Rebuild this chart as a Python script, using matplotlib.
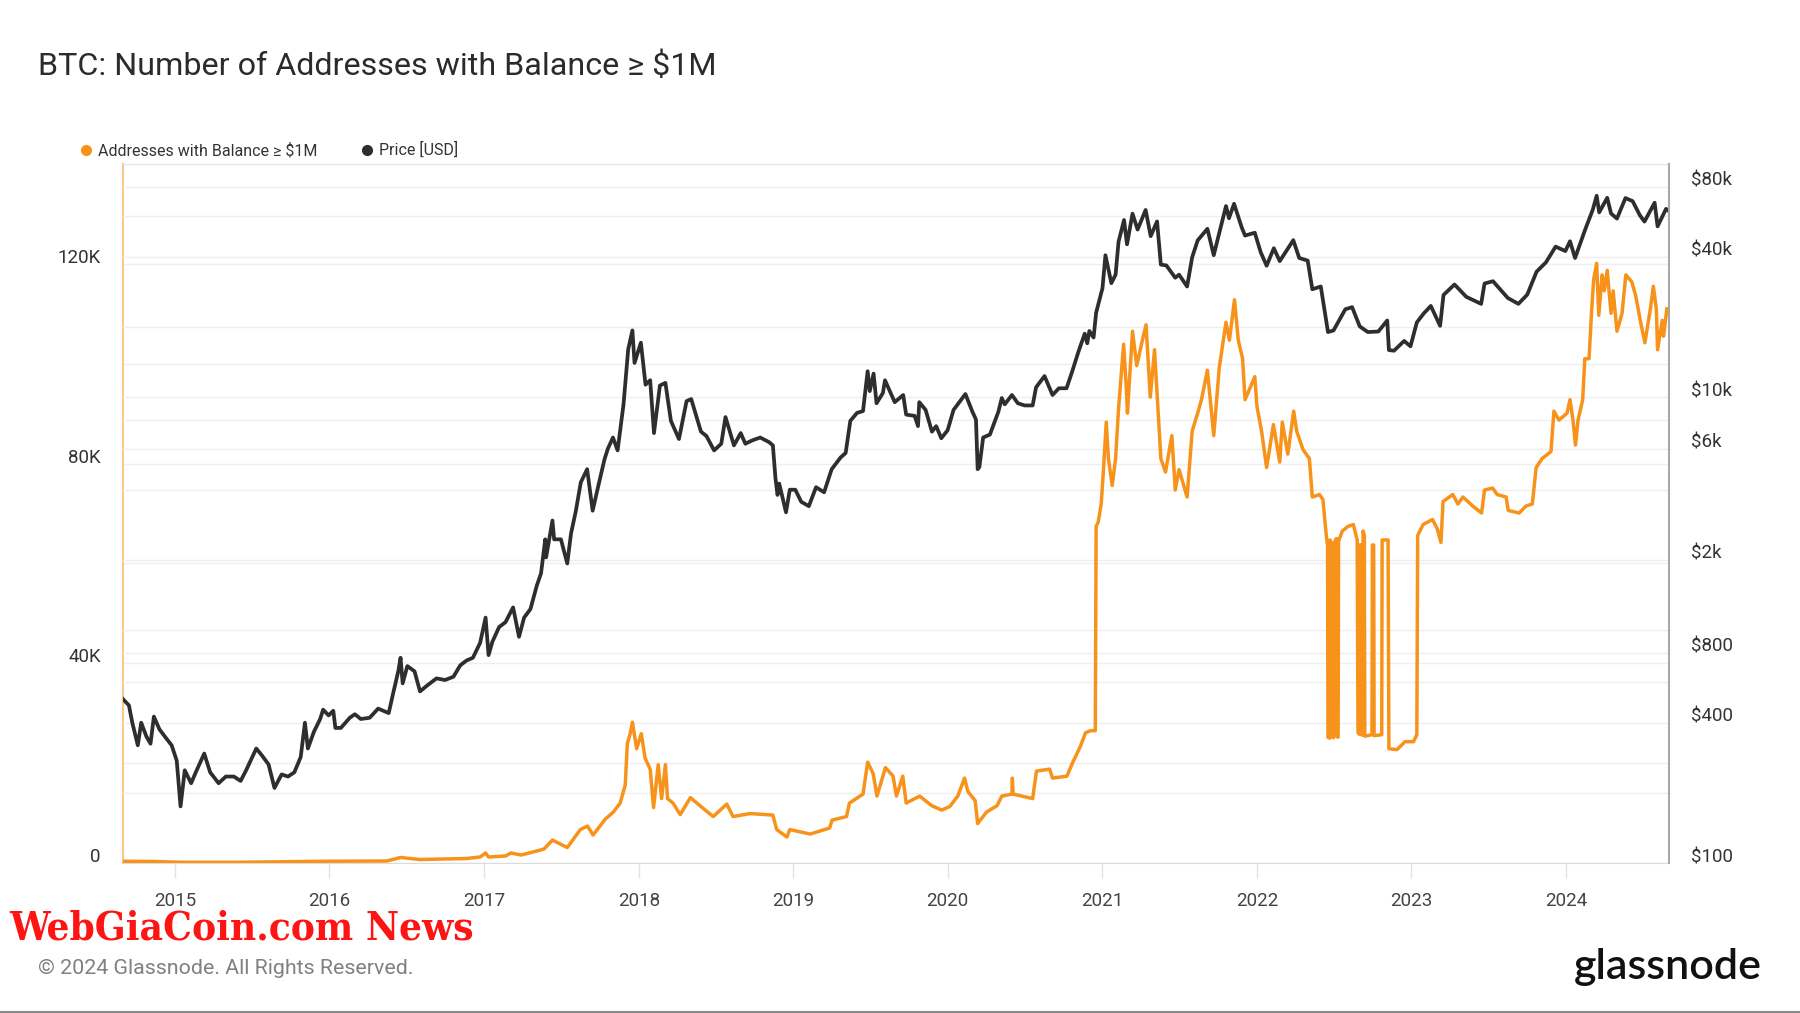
import matplotlib
matplotlib.use("Agg")
import matplotlib.pyplot as plt
import matplotlib.dates as mdates
from matplotlib.lines import Line2D
from matplotlib.ticker import NullLocator
from matplotlib.transforms import ScaledTranslation
import pandas as pd

plt.rcParams['font.family'] = ['Roboto', 'DejaVu Sans']

price_dates = [
    "2014-08-31", "2014-09-14", "2014-09-22", "2014-10-05", "2014-10-13", "2014-10-25",
    "2014-11-04", "2014-11-12", "2014-11-25", "2014-12-10", "2014-12-24", "2015-01-05",
    "2015-01-14", "2015-01-24", "2015-02-08", "2015-02-19", "2015-03-11", "2015-03-25",
    "2015-04-14", "2015-05-01", "2015-05-20", "2015-06-05", "2015-06-18", "2015-07-12",
    "2015-07-25", "2015-08-10", "2015-08-24", "2015-09-10", "2015-09-25", "2015-10-10",
    "2015-10-25", "2015-11-04", "2015-11-11", "2015-11-25", "2015-12-10", "2015-12-17",
    "2015-12-30", "2016-01-10", "2016-01-15", "2016-01-28", "2016-02-18", "2016-03-01",
    "2016-03-15", "2016-04-05", "2016-04-25", "2016-05-20", "2016-05-30", "2016-06-12",
    "2016-06-17", "2016-06-22", "2016-07-03", "2016-07-20", "2016-08-02", "2016-08-20",
    "2016-09-10", "2016-09-30", "2016-10-20", "2016-11-05", "2016-11-20", "2016-12-05",
    "2016-12-22", "2017-01-04", "2017-01-11", "2017-01-20", "2017-02-05", "2017-02-20",
    "2017-03-10", "2017-03-24", "2017-04-05", "2017-04-20", "2017-05-05", "2017-05-15",
    "2017-05-25", "2017-05-27", "2017-06-11", "2017-06-15", "2017-07-01", "2017-07-16",
    "2017-07-25", "2017-08-05", "2017-08-17", "2017-09-01", "2017-09-14", "2017-09-28",
    "2017-10-12", "2017-10-20", "2017-11-01", "2017-11-12", "2017-11-26", "2017-12-07",
    "2017-12-17", "2017-12-22", "2018-01-06", "2018-01-17", "2018-01-28", "2018-02-06",
    "2018-02-20", "2018-03-05", "2018-03-18", "2018-04-06", "2018-04-24", "2018-05-05",
    "2018-05-28", "2018-06-10", "2018-06-28", "2018-07-15", "2018-07-25", "2018-08-14",
    "2018-08-30", "2018-09-10", "2018-09-25", "2018-10-15", "2018-11-05", "2018-11-14",
    "2018-11-20", "2018-11-25", "2018-11-29", "2018-12-15", "2018-12-24", "2019-01-06",
    "2019-01-20", "2019-02-07", "2019-02-24", "2019-03-15", "2019-04-02", "2019-04-23",
    "2019-05-05", "2019-05-16", "2019-06-01", "2019-06-15", "2019-06-26", "2019-07-01",
    "2019-07-10", "2019-07-17", "2019-08-01", "2019-08-06", "2019-08-29", "2019-09-18",
    "2019-09-25", "2019-10-15", "2019-10-23", "2019-10-26", "2019-11-10", "2019-11-25",
    "2019-12-05", "2019-12-17", "2020-01-01", "2020-01-15", "2020-02-12", "2020-02-28",
    "2020-03-08", "2020-03-12", "2020-03-16", "2020-03-25", "2020-04-10", "2020-04-30",
    "2020-05-08", "2020-05-15", "2020-06-01", "2020-06-15", "2020-07-01", "2020-07-20",
    "2020-07-28", "2020-08-17", "2020-09-05", "2020-09-20", "2020-10-08", "2020-10-21",
    "2020-11-05", "2020-11-20", "2020-11-26", "2020-12-01", "2020-12-11", "2020-12-17",
    "2021-01-01", "2021-01-08", "2021-01-22", "2021-02-01", "2021-02-08", "2021-02-21",
    "2021-02-28", "2021-03-13", "2021-03-25", "2021-04-13", "2021-04-25", "2021-05-10",
    "2021-05-19", "2021-06-01", "2021-06-22", "2021-07-01", "2021-07-20", "2021-08-01",
    "2021-08-14", "2021-09-06", "2021-09-21", "2021-10-01", "2021-10-20", "2021-10-27",
    "2021-11-08", "2021-11-26", "2021-12-04", "2021-12-27", "2022-01-10", "2022-01-24",
    "2022-02-10", "2022-02-24", "2022-03-28", "2022-04-11", "2022-05-01", "2022-05-12",
    "2022-06-01", "2022-06-18", "2022-07-01", "2022-07-29", "2022-08-14", "2022-09-01",
    "2022-09-20", "2022-10-15", "2022-11-05", "2022-11-09", "2022-11-21", "2022-12-15",
    "2022-12-30", "2023-01-14", "2023-01-30", "2023-02-16", "2023-03-10", "2023-03-18",
    "2023-04-13", "2023-05-11", "2023-06-15", "2023-06-23", "2023-07-13", "2023-08-17",
    "2023-09-11", "2023-10-02", "2023-10-24", "2023-11-15", "2023-12-08", "2023-12-31",
    "2024-01-11", "2024-01-23", "2024-02-15", "2024-03-05", "2024-03-14", "2024-03-20",
    "2024-04-08", "2024-04-17", "2024-05-01", "2024-05-21", "2024-06-07", "2024-06-24",
    "2024-07-05", "2024-07-29", "2024-08-05", "2024-08-25", "2024-08-28",
]
price_usd = [
    505, 475, 400, 320, 400, 350,
    325, 425, 375, 345, 320, 275,
    175, 250, 220, 245, 295, 245,
    220, 235, 235, 225, 250, 310,
    290, 265, 210, 240, 235, 245,
    285, 400, 310, 365, 415, 455,
    430, 450, 380, 380, 420, 435,
    415, 420, 460, 440, 530, 670,
    760, 590, 700, 665, 545, 580,
    620, 610, 630, 705, 740, 760,
    880, 1130, 780, 890, 1030, 1080,
    1250, 935, 1130, 1230, 1550, 1750,
    2450, 2050, 2950, 2450, 2450, 1930,
    2600, 3220, 4300, 4900, 3250, 4200,
    5400, 6000, 6700, 5900, 9300, 16000,
    19300, 14000, 17100, 11300, 11800, 7000,
    11200, 11500, 7900, 6600, 9600, 9800,
    7100, 6800, 5900, 6300, 8200, 6200,
    7000, 6300, 6500, 6700, 6400, 6200,
    4500, 3800, 4250, 3200, 4000, 4000,
    3550, 3400, 4100, 3900, 4900, 5500,
    5750, 7900, 8550, 8700, 12900, 10600,
    12600, 9400, 10400, 11800, 9500, 10200,
    8400, 8300, 7500, 9500, 8800, 7100,
    7500, 6650, 7200, 8800, 10300, 8700,
    8000, 4900, 5000, 6700, 6900, 8650,
    9900, 9300, 10200, 9400, 9200, 9200,
    11000, 12300, 10200, 10900, 10900, 12800,
    15600, 18700, 17000, 19200, 18000, 23000,
    29300, 40600, 30800, 33500, 46400, 57500,
    45200, 61200, 52300, 63500, 49000, 56700,
    37000, 36700, 32500, 33500, 29800, 39800,
    47000, 52700, 40600, 48100, 66000, 58500,
    67500, 53500, 49300, 50700, 41800, 36600,
    43500, 38300, 47100, 39500, 38500, 29000,
    29800, 19000, 19300, 23800, 24300, 20100,
    19000, 19100, 21300, 15900, 15800, 17400,
    16500, 20900, 22800, 24600, 20200, 27400,
    30400, 26900, 25100, 30700, 31400, 26600,
    25100, 27500, 34500, 37800, 44200, 42300,
    46600, 39500, 51800, 63800, 73100, 62000,
    71600, 61300, 58300, 71400, 69300, 60300,
    56600, 68200, 54000, 64200, 63500,
]

# Addresses with balance >= $1M
addr_dates = [
    "2014-08-31", "2014-11-15", "2015-01-14", "2015-06-01", "2015-11-04", "2015-12-17",
    "2016-05-15", "2016-06-17", "2016-08-02", "2016-11-20", "2016-12-22", "2017-01-04",
    "2017-01-11", "2017-02-20", "2017-03-05", "2017-03-29", "2017-05-05", "2017-05-22",
    "2017-06-11", "2017-07-16", "2017-08-16", "2017-09-02", "2017-09-15", "2017-10-14",
    "2017-11-02", "2017-11-18", "2017-11-30", "2017-12-05", "2017-12-12", "2017-12-17",
    "2017-12-27", "2018-01-07", "2018-01-16", "2018-01-28", "2018-02-05", "2018-02-16",
    "2018-02-24", "2018-03-05", "2018-03-10", "2018-03-23", "2018-04-09", "2018-05-03",
    "2018-05-31", "2018-06-26", "2018-07-28", "2018-08-12", "2018-09-21", "2018-11-14",
    "2018-11-23", "2018-12-17", "2018-12-24", "2019-02-10", "2019-03-28", "2019-04-03",
    "2019-05-07", "2019-05-14", "2019-06-15", "2019-06-26", "2019-07-09", "2019-07-18",
    "2019-08-07", "2019-08-25", "2019-09-02", "2019-09-17", "2019-09-25", "2019-10-27",
    "2019-11-24", "2019-12-18", "2020-01-06", "2020-01-25", "2020-02-10", "2020-02-18",
    "2020-03-06", "2020-03-12", "2020-04-02", "2020-04-27", "2020-05-08", "2020-06-01",
    "2020-06-02", "2020-06-04", "2020-07-20", "2020-07-29", "2020-08-29", "2020-09-05",
    "2020-10-09", "2020-10-23", "2020-11-10", "2020-11-22", "2020-12-04", "2020-12-15",
    "2020-12-17", "2020-12-22", "2020-12-29", "2021-01-03", "2021-01-10", "2021-01-15",
    "2021-01-24", "2021-02-01", "2021-02-08", "2021-02-20", "2021-02-26", "2021-03-01",
    "2021-03-13", "2021-03-23", "2021-04-04", "2021-04-14", "2021-04-24", "2021-05-04",
    "2021-05-19", "2021-05-30", "2021-06-14", "2021-06-22", "2021-07-01", "2021-07-20",
    "2021-08-01", "2021-08-14", "2021-08-23", "2021-09-06", "2021-09-21", "2021-10-04",
    "2021-10-20", "2021-10-28", "2021-11-09", "2021-11-18", "2021-11-28", "2021-12-04",
    "2021-12-27", "2022-01-01", "2022-01-12", "2022-01-24", "2022-02-09", "2022-02-24",
    "2022-03-02", "2022-03-15", "2022-03-29", "2022-04-05", "2022-04-20", "2022-05-05",
    "2022-05-12", "2022-05-29", "2022-06-06", "2022-06-14", "2022-06-17", "2022-06-18",
    "2022-06-22", "2022-06-23", "2022-06-28", "2022-06-29", "2022-07-01", "2022-07-02",
    "2022-07-08", "2022-07-09", "2022-07-12", "2022-07-13", "2022-07-22", "2022-08-04",
    "2022-08-17", "2022-08-26", "2022-08-28", "2022-08-31", "2022-09-01", "2022-09-04",
    "2022-09-05", "2022-09-08", "2022-09-09", "2022-09-12", "2022-09-13", "2022-09-30",
    "2022-10-01", "2022-10-04", "2022-10-05", "2022-10-23", "2022-10-24", "2022-11-07",
    "2022-11-09", "2022-11-28", "2022-12-17", "2023-01-06", "2023-01-14", "2023-01-16",
    "2023-01-29", "2023-02-20", "2023-03-03", "2023-03-12", "2023-03-17", "2023-04-09",
    "2023-04-21", "2023-05-03", "2023-05-26", "2023-06-16", "2023-06-23", "2023-07-12",
    "2023-07-23", "2023-08-13", "2023-08-18", "2023-09-13", "2023-09-29", "2023-10-14",
    "2023-10-23", "2023-11-06", "2023-11-27", "2023-12-04", "2023-12-16", "2024-01-04",
    "2024-01-11", "2024-01-18", "2024-01-24", "2024-01-30", "2024-02-10", "2024-02-15",
    "2024-02-25", "2024-03-02", "2024-03-07", "2024-03-14", "2024-03-19", "2024-03-27",
    "2024-04-01", "2024-04-08", "2024-04-17", "2024-04-22", "2024-05-01", "2024-05-13",
    "2024-05-22", "2024-06-05", "2024-06-14", "2024-06-26", "2024-07-06", "2024-07-19",
    "2024-07-26", "2024-08-02", "2024-08-05", "2024-08-16", "2024-08-19", "2024-08-27",
]
addr_count = [
    350, 300, 150, 150, 300, 350,
    400, 1100, 700, 900, 1200, 2000,
    1200, 1400, 2000, 1600, 2400, 2800,
    4600, 3100, 6700, 7400, 5600, 8800,
    10200, 12000, 15600, 23900, 26000, 28200,
    22900, 25900, 21000, 18800, 11100, 19700,
    12900, 19700, 12900, 12000, 9700, 13100,
    11100, 9300, 11800, 9300, 9900, 9600,
    6700, 5200, 6700, 5800, 7000, 8600,
    9300, 12000, 13800, 20200, 17900, 13400,
    19100, 17400, 13400, 17400, 12000, 13400,
    11500, 10600, 11300, 13400, 17000, 14300,
    12500, 7900, 10200, 11500, 13400, 13800,
    17000, 13800, 12900, 18400, 18800, 17000,
    17400, 20200, 23400, 26100, 26500, 26500,
    67400, 68300, 71900, 78300, 88300, 81000,
    75600, 81000, 91000, 103900, 95600, 90100,
    106500, 99600, 104200, 107800, 93300, 102800,
    81000, 78300, 85600, 74700, 78800, 73300,
    86500, 90100, 92800, 98700, 85600, 99200,
    108300, 104700, 112800, 104700, 101100, 92800,
    97400, 91500, 86500, 79200, 87800, 80300,
    88300, 81900, 90500, 86500, 82800, 81000,
    73300, 73800, 72800, 65600, 63500, 25200,
    25000, 64700, 63700, 25200, 25100, 64000,
    65000, 25300, 25200, 64500, 66500, 67400,
    67800, 64700, 26100, 25800, 63700, 63700,
    25700, 25600, 66500, 65600, 25400, 25700,
    63700, 63700, 25500, 25700, 64700, 64700,
    22900, 22700, 24300, 24300, 25700, 65600,
    67800, 68800, 67000, 64200, 72400, 73800,
    71900, 73300, 71500, 70100, 74700, 75100,
    73800, 73300, 70600, 70100, 71500, 71900,
    79200, 81000, 82400, 90500, 88700, 90100,
    92800, 88700, 83700, 88700, 92800, 101000,
    101000, 110500, 116900, 120100, 109700, 117800,
    114600, 118700, 110100, 114600, 106500, 110100,
    117800, 116400, 113700, 108300, 104200, 111000,
    115500, 111000, 102800, 108700, 105500, 111000,
]

left_ticks = [0, 20000, 40000, 60000, 80000, 100000, 120000, 140000]
left_labels = ["0", "", "40K", "", "80K", "", "120K", ""]
right_ticks = [100, 200, 400, 600, 800, 1000, 2000, 4000, 6000, 8000,
               10000, 20000, 40000, 60000, 80000]
right_labels = ["$100", "", "$400", "", "$800", "", "$2k", "", "$6k", "",
                "$10k", "", "$40k", "", "$80k"]

ORANGE = "#f7931a"
DARK = "#2e2e2e"
W, H = 1800, 1013

fig = plt.figure(figsize=(W / 100, H / 100), dpi=100)
L, R, T, B = 123, 1669, 164, 863
rect = [L / W, 1 - B / H, (R - L) / W, (B - T) / H]

ax = fig.add_axes(rect)      # left scale + grid + x axis
axp = ax.twinx()             # price, log scale on the right
axa = ax.twinx()             # address line drawn on top

pd_price = pd.to_datetime(price_dates)
pd_addr = pd.to_datetime(addr_dates)

axp.plot(pd_price, price_usd, color=DARK, lw=2.7, solid_joinstyle="round")
axa.plot(pd_addr, addr_count, color=ORANGE, lw=2.5, solid_joinstyle="round")

ax.set_xlim(pd.Timestamp("2014-08-31"), pd.Timestamp("2024-09-01"))
ax.set_ylim(0, 140000)
axa.set_ylim(0, 140000)
axp.set_yscale("log")
axp.set_ylim(100, 100000)

# left axis
ax.set_yticks(left_ticks)
ax.set_yticklabels(left_labels)
ax.tick_params(axis="y", length=0, pad=16, labelsize=13.5, labelcolor="#333333")
ax.grid(axis="y", color="#efefef", lw=1)
ax.set_axisbelow(True)

# right axis
axp.set_yticks(right_ticks)
axp.set_yticklabels(right_labels)
axp.yaxis.set_minor_locator(NullLocator())
axp.tick_params(axis="y", length=0, pad=16, labelsize=13.5, labelcolor="#333333")
axp.grid(axis="y", color="#efefef", lw=1)
axp.set_axisbelow(True)

# labels sit just above their grid line
up = ScaledTranslation(0, 8 / 100, fig.dpi_scale_trans)
for lab in ax.get_yticklabels() + axp.get_yticklabels():
    lab.set_transform(lab.get_transform() + up)

# x axis
ax.xaxis.set_major_locator(mdates.YearLocator())
ax.xaxis.set_major_formatter(mdates.DateFormatter("%Y"))
ax.tick_params(axis="x", length=10.8, width=1, color="#e3e3e3", pad=10,
               labelsize=13.5, labelcolor="#444444")

axa.yaxis.set_visible(False)
for s in axa.spines.values():
    s.set_visible(False)
for k in ("top", "left", "bottom"):
    axp.spines[k].set_visible(False)
axp.spines["right"].set_color("#a8a8a8")
axp.spines["right"].set_linewidth(1.5)
ax.spines["right"].set_visible(False)
ax.spines["left"].set_color("#fcc78a")
ax.spines["left"].set_linewidth(1.5)
ax.spines["top"].set_color("#e6e6e6")
ax.spines["bottom"].set_color("#dcdcdc")

# legend
handles = [Line2D([], [], ls="", marker="o", ms=7, color=ORANGE),
           Line2D([], [], ls="", marker="o", ms=7, color=DARK)]
fig.legend(handles, ["Addresses with Balance \u2265 $1M", "Price [USD]"],
           loc="center left", bbox_to_anchor=(80 / W, 1 - 150 / H), ncol=2,
           frameon=False, fontsize=11.5, handlelength=0.7, handletextpad=0.4,
           columnspacing=2.8, borderpad=0, borderaxespad=0, labelcolor="#333333")

fig.text(38 / W, 1 - 66 / H, "BTC: Number of Addresses with Balance \u2265 $1M",
         fontsize=23.2, color="#2b2b2b", va="center", ha="left")

fig.text(9 / W, 1 - 928 / H, "WebGiaCoin.com News", color="#ff1414",
         fontsize=29, fontweight="bold", family=["DejaVu Serif"],
         fontstretch="condensed", va="center", ha="left")

fig.text(38 / W, 1 - 968 / H, "\u00a9 2024 Glassnode. All Rights Reserved.",
         fontsize=15.4, color="#808080", va="center", ha="left")

fig.text(1762 / W, 1 - 967 / H, "glassnode", fontsize=31, color="#111111",
         family=["Lato", "DejaVu Sans"], fontweight="semibold", va="center", ha="right")

fig.add_artist(Line2D([0, 1], [1 - 1011.5 / H] * 2, transform=fig.transFigure,
                      color="#8a8a8a", lw=1.5))

fig.savefig("out.png", dpi=100, facecolor="white")
